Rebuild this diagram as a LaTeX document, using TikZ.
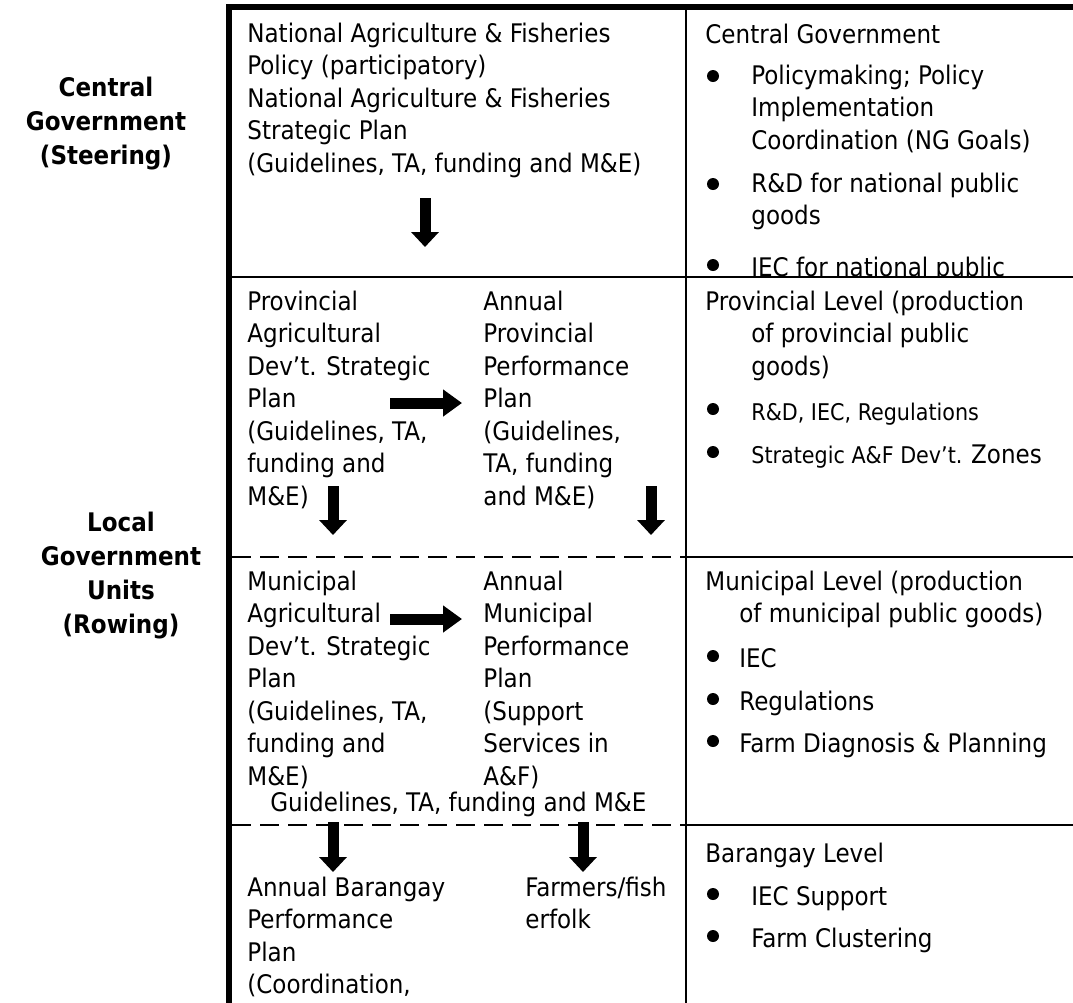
\documentclass[tikz,border=0pt]{standalone}
\usepackage{fontspec}
\setmainfont{DejaVu Sans Condensed}
\usetikzlibrary{arrows.meta}

\newcommand{\bodyfont}{\fontsize{12.8}{16.25}\selectfont}
\newcommand{\smallbody}{\fontsize{11.5}{16.25}\selectfont}
\newcommand{\headfont}{\fontsize{12.8}{17}\selectfont\bfseries}

\tikzset{
  txt/.style={anchor=north west, inner sep=0pt, align=left, font=\bodyfont,
    execute at begin node=\strut, yshift=11.375pt},
  head/.style={anchor=north, inner sep=0pt, align=center, font=\headfont,
    execute at begin node=\strut, yshift=11.9pt},
  dot/.style={circle, fill, inner sep=0pt, minimum size=6pt},
  frame/.style={line width=3pt},
  rule/.style={line width=1.25pt},
  dashrule/.style={line width=1.25pt, dash pattern=on 9.5pt off 4.5pt},
  blockdown/.style={line width=5.5pt, -{Triangle[length=7.5pt,width=13.5pt]}},
  blockright/.style={line width=5.5pt, -{Triangle[length=9.5pt,width=13pt]}},
}

\begin{document}
\begin{tikzpicture}[x=0.5pt,y=-0.5pt]
\clip (0,0) rectangle (1073,1003);

% table rules
\draw[frame] (1100,6.5) -- (229,6.5) -- (229,1020);
\draw[rule] (686,6.5) -- (686,1020);
\draw[rule] (229,277) -- (1100,277);
\draw[rule] (686,557) -- (1100,557);
\draw[rule] (686,825) -- (1100,825);
\draw[dashrule] (232,557) -- (686,557);
\draw[dashrule] (232,825) -- (686,825);

% side labels
\node[head] (cg-lab) at (106,100) {Central\\Government\\(Steering)};
\node[head] (lgu-lab) at (121,535) {Local\\Government\\Units\\(Rowing)};

% national row
\node[txt] (natplan) at (247,45) {National Agriculture \& Fisheries\\Policy (participatory)\\National Agriculture \& Fisheries\\Strategic Plan\\(Guidelines, TA, funding and M\&E)};
\coordinate (nat-s) at (425,198);
\coordinate (nat-e) at (425,247);
\draw[blockdown] (nat-s) -- (nat-e);

\node[txt] (cg-head) at (705,43) {Central Government};
\node[dot] (cg-d1) at (713,76) {};
\node[txt] (cg-i1) at (751,87) {Policymaking; Policy\\Implementation\\Coordination (NG Goals)};
\node[dot] (cg-d2) at (713,184) {};
\node[txt] (cg-i2) at (751,195) {R\&D for national public\\goods};
\begin{scope}
  \clip (687,8) rectangle (1100,276);
  \node[dot] (cg-d3) at (713,265) {};
  \node[txt] (cg-i3) at (751,276) {IEC for national public};
\end{scope}

% provincial row
\node[txt] (provplan) at (247,313) {Provincial\\Agricultural\\Dev’t. Strategic\\Plan\\(Guidelines, TA,\\funding and\\M\&E)};
\node[txt] (provann) at (483,313) {Annual\\Provincial\\Performance\\Plan\\(Guidelines,\\TA, funding\\and M\&E)};
\coordinate (prov-a) at (390,403);
\coordinate (prov-b) at (462,403);
\draw[blockright] (prov-a) -- (prov-b);
\coordinate (prov-s1) at (333,486);
\coordinate (prov-e1) at (333,535);
\draw[blockdown] (prov-s1) -- (prov-e1);
\coordinate (prov-s2) at (651,486);
\coordinate (prov-e2) at (651,535);
\draw[blockdown] (prov-s2) -- (prov-e2);

\node[txt] (pl-head) at (705,313) {Provincial Level (production\\\hspace*{23pt}of provincial public\\\hspace*{23pt}goods)};
\node[dot] (pl-d1) at (713,409) {};
\node[txt,font=\smallbody] (pl-i1) at (751,420) {R\&D, IEC, Regulations};
\node[dot] (pl-d2) at (713,452) {};
\node[txt,font=\smallbody] (pl-i2) at (751,463) {Strategic A\&F Dev’t. {\bodyfont Zones}};

% municipal row
\node[txt] (munplan) at (247,593) {Municipal\\Agricultural\\Dev’t. Strategic\\Plan\\(Guidelines, TA,\\funding and\\M\&E)};
\node[txt] (munann) at (483,593) {Annual\\Municipal\\Performance\\Plan\\(Support\\Services in\\A\&F)};
\node[txt] (munguide) at (270,811) {Guidelines, TA, funding and M\&E};
\coordinate (mun-a) at (390,619);
\coordinate (mun-b) at (462,619);
\draw[blockright] (mun-a) -- (mun-b);

\node[txt] (ml-head) at (705,593) {Municipal Level (production\\\hspace*{17pt}of municipal public goods)};
\node[dot] (ml-d1) at (713,656) {};
\node[txt] (ml-i1) at (739,667) {IEC};
\node[dot] (ml-d2) at (713,699) {};
\node[txt] (ml-i2) at (739,710) {Regulations};
\node[dot] (ml-d3) at (713,741) {};
\node[txt] (ml-i3) at (739,752) {Farm Diagnosis \& Planning};

% barangay row
\coordinate (brgy-s1) at (333,822);
\coordinate (brgy-e1) at (333,872);
\draw[blockdown] (brgy-s1) -- (brgy-e1);
\coordinate (brgy-s2) at (583,822);
\coordinate (brgy-e2) at (583,872);
\draw[blockdown] (brgy-s2) -- (brgy-e2);
\node[txt] (brgyann) at (247,899) {Annual Barangay\\Performance\\Plan\\(Coordination,};
\node[txt] (farmers) at (525,899) {Farmers/fish\\erfolk};

\node[txt] (bl-head) at (705,862) {Barangay Level};
\node[dot] (bl-d1) at (713,894) {};
\node[txt] (bl-i1) at (751,905) {IEC Support};
\node[dot] (bl-d2) at (713,936) {};
\node[txt] (bl-i2) at (751,947) {Farm Clustering};
\end{tikzpicture}
\end{document}
